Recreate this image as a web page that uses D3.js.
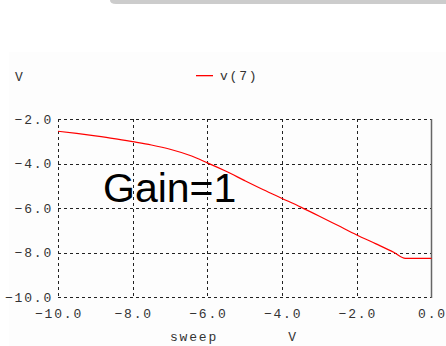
<!DOCTYPE html>
<html><head><meta charset="utf-8">
<script src="https://cdn.jsdelivr.net/npm/d3@7"></script>
<style>
html,body{margin:0;padding:0;background:#fff;}
svg{display:block;}
.tk{font-family:"Liberation Mono","DejaVu Sans Mono",monospace;font-size:13px;letter-spacing:1.8px;fill:#333;}
</style></head><body>
<svg id="c" width="446" height="346"></svg>
<script>
const sweepX = [-10,-9.5,-9,-8.5,-8,-7.5,-7,-6.5,-6,-5.5,-5,-4.5,-4,-3.5,-3,-2.5,-2,-1.5,-1,-0.7,0];
const v7 = [-2.55,-2.65,-2.76,-2.88,-3.02,-3.17,-3.36,-3.62,-3.97,-4.35,-4.77,-5.18,-5.57,-5.96,-6.37,-6.79,-7.21,-7.6,-8.0,-8.26,-8.26];
const xTicks = [-10,-8,-6,-4,-2,0];
const yTicks = [-2,-4,-6,-8,-10];
const seriesName = "v(7)";
const annotation = "Gain=1";

const svg = d3.select("#c");
svg.append("path").attr("d","M110,0 H446 V4 H116 Q110,4 110,0 Z").attr("fill","#cccccc");
svg.append("rect").attr("x",9).attr("y",52).attr("width",437).attr("height",294).attr("fill","#fdfdfd");

const x = d3.scaleLinear().domain([-10,0]).range([58,431.5]);
const y = d3.scaleLinear().domain([-10,-2]).range([297,119]);

const dash = "3,3";
svg.append("g").selectAll("line").data(xTicks.filter(t=>t!==0)).join("line")
  .attr("x1",d=>Math.round(x(d))+0.5).attr("x2",d=>Math.round(x(d))+0.5).attr("y1",y(-2)).attr("y2",y(-10))
  .attr("stroke","#222").attr("stroke-dasharray",dash);
svg.append("g").selectAll("line").data(yTicks).join("line")
  .attr("x1",x(-10)).attr("x2",x(0)).attr("y1",d=>Math.round(y(d))+0.5).attr("y2",d=>Math.round(y(d))+0.5)
  .attr("stroke","#222").attr("stroke-dasharray",dash);
svg.append("line").attr("x1",x(0)).attr("x2",x(0)).attr("y1",y(-2)).attr("y2",y(-10)+1)
  .attr("stroke","#666").attr("stroke-width",1.5);

svg.append("g").selectAll("text").data(xTicks).join("text").attr("class","tk")
  .attr("x",d=>x(d)+1).attr("y",318).attr("text-anchor","middle")
  .text(d=>d3.format(".1f")(d).replace("-","\u2212"));
svg.append("g").selectAll("text").data(yTicks).join("text").attr("class","tk")
  .attr("x",53).attr("y",d=>y(d)+4.5).attr("text-anchor","end")
  .text(d=>d3.format(".1f")(d).replace("-","\u2212"));

svg.append("text").attr("class","tk").attr("x",15).attr("y",81).text("V");
svg.append("text").attr("class","tk").attr("x",194).attr("y",341).attr("text-anchor","middle").text("sweep");
svg.append("text").attr("class","tk").attr("x",293).attr("y",341).attr("text-anchor","middle").text("V");

svg.append("rect").attr("x",196).attr("y",75).attr("width",17).attr("height",1.3).attr("fill","#ff0000");
svg.append("text").attr("class","tk").attr("x",220).attr("y",80).text(seriesName);

const line = d3.line().x((d,i)=>x(sweepX[i])).y(d=>y(d)).curve(d3.curveMonotoneX);
svg.append("path").datum(v7).attr("d",line).attr("fill","none").attr("stroke","#ff0000").attr("stroke-width",1.2);

svg.append("text").attr("x",103).attr("y",202).attr("font-family","'Liberation Sans',Arial,sans-serif")
  .attr("font-size",41).attr("fill","#000").text(annotation);
</script>
</body></html>
